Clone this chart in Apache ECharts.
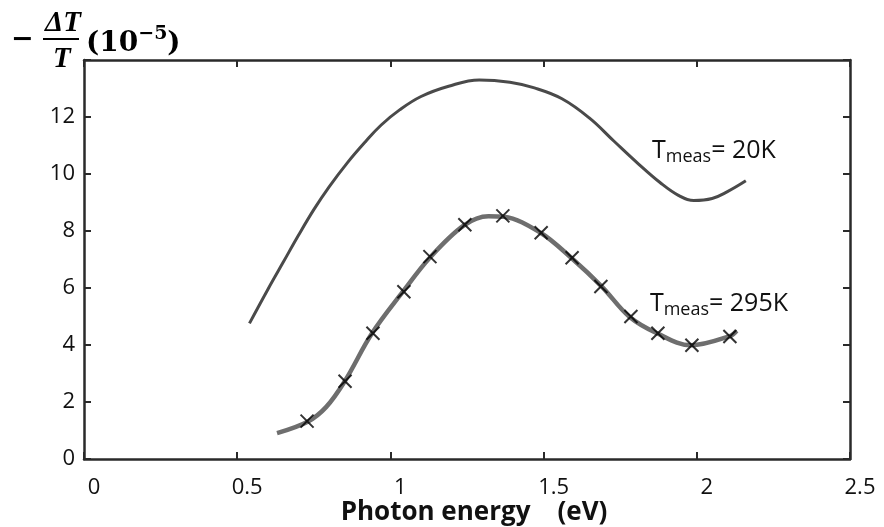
<!DOCTYPE html>
<html>
<head>
<meta charset="utf-8">
<script src="https://cdn.jsdelivr.net/npm/echarts@6.0.0/dist/echarts.min.js"></script>
<style>
html, body { margin: 0; padding: 0; background: #fff; }
#chart { width: 884px; height: 527px; }
</style>
</head>
<body>
<div id="chart"></div>
<script>
// x: photon energy (eV), y: -dT/T (1e-5)
const xTicks = [0, 0.5, 1, 1.5, 2, 2.5];
const yTicks = [0, 2, 4, 6, 8, 10, 12];
const yMax = 14;

// traced curve, T = 20K
const curve20K = [
  [0.54, 4.76], [0.60, 5.95], [0.65, 6.9], [0.70, 7.85], [0.75, 8.75],
  [0.80, 9.55], [0.86, 10.4], [0.92, 11.15], [0.97, 11.72], [1.03, 12.25],
  [1.10, 12.72], [1.19, 13.08], [1.29, 13.3], [1.39, 13.22], [1.47, 13.02],
  [1.56, 12.64], [1.65, 11.96], [1.73, 11.15], [1.81, 10.35], [1.88, 9.7],
  [1.94, 9.25], [1.99, 9.07], [2.05, 9.14], [2.10, 9.38], [2.16, 9.76]
];

// traced curve, T = 295K
const curve295K = [
  [0.63, 0.91], [0.73, 1.31], [0.79, 1.82], [0.85, 2.71], [0.94, 4.41],
  [1.04, 5.86], [1.13, 7.08], [1.24, 8.2], [1.32, 8.52], [1.37, 8.5],
  [1.49, 7.94], [1.59, 7.06], [1.69, 6.05], [1.78, 4.99], [1.87, 4.41],
  [1.98, 3.99], [2.11, 4.32], [2.13, 4.5]
];

// measured points (x marks), T = 295K
const marks295K = [
  [0.728, 1.33], [0.852, 2.73], [0.943, 4.41], [1.044, 5.87], [1.129, 7.1],
  [1.243, 8.22], [1.367, 8.53], [1.492, 7.94], [1.593, 7.06], [1.687, 6.05],
  [1.785, 5.0], [1.873, 4.41], [1.984, 3.99], [2.108, 4.3]
];

// curve labels: anchor in data coords (left edge, T cap centre)
const labels = [
  { text: "= 20K", at: [1.854, 10.85] },
  { text: "= 295K", at: [1.847, 5.5] }
];

const axisColor = "#2a2a2a";
const sans = "Open Sans";

let myChart = echarts.init(document.getElementById("chart"));

function frameAxis(type, pos, show) {
  return {
    type: "value",
    position: pos,
    min: type === "x" ? xTicks[0] : 0,
    max: type === "x" ? xTicks[xTicks.length - 1] : yMax,
    interval: type === "x" ? xTicks[1] - xTicks[0] : yTicks[1] - yTicks[0],
    axisLine: { show: true, onZero: false, lineStyle: { color: axisColor, width: 2.5 } },
    axisTick: { show: true, inside: true, length: 7, lineStyle: { color: axisColor, width: 2 } },
    splitLine: { show: false },
    axisLabel: { show: show },
  };
}

let xMain = frameAxis("x", "bottom", true);
xMain.axisLabel = {
  show: true,
  margin: 18,
  padding: [0, 0, 0, 20],
  color: "#111",
  fontFamily: sans,
  fontSize: 22,
  formatter: (v) => (xTicks.indexOf(v) >= 0 ? String(v) : ""),
};
xMain.name = "Photon energy    (eV)";
xMain.nameLocation = "middle";
xMain.nameGap = 41;
xMain.nameMoveOverlap = false;
xMain.nameTextStyle = {
  color: "#111",
  fontFamily: sans,
  fontWeight: "bold",
  fontSize: 26,
  padding: [0, 0, 0, 14],
};

let yMain = frameAxis("y", "left", true);
yMain.axisLabel = {
  show: true,
  margin: 9,
  color: "#111",
  fontFamily: sans,
  fontSize: 22,
  formatter: (v) => (yTicks.indexOf(v) >= 0 ? String(v) : ""),
};

myChart.setOption({
  animation: false,
  backgroundColor: "#fff",
  grid: { left: 84, right: 34, top: 60, bottom: 68, outerBoundsMode: "none" },
  xAxis: [xMain, frameAxis("x", "top", false)],
  yAxis: [yMain, frameAxis("y", "right", false)],
  series: [
    {
      name: "20K",
      type: "line",
      data: curve20K,
      smooth: 0.4,
      showSymbol: false,
      silent: true,
      lineStyle: { color: "#4a4a4a", width: 3 },
    },
    {
      name: "295K",
      type: "line",
      data: curve295K,
      smooth: 0.35,
      showSymbol: false,
      silent: true,
      lineStyle: { color: "#6e6e6e", width: 4.5 },
    },
    {
      name: "295K points",
      type: "scatter",
      data: marks295K,
      symbol: "path://M0,0L10,10M10,0L0,10",
      symbolSize: 13,
      silent: true,
      itemStyle: { color: "none", borderColor: "#000", borderWidth: 2 },
      z: 5,
    },
  ],
});

// annotations
let graphics = [
  // y axis title: − ΔT/T (10^-5)
  {
    type: "text", left: 11, top: 26,
    style: { text: "\u2212", font: "bold 27px 'DejaVu Serif'", fill: "#000" },
  },
  {
    type: "text", left: 45, top: 9,
    style: { text: "\u0394T", font: "italic bold 29px 'Liberation Serif'", fill: "#000" },
  },
  {
    type: "line",
    shape: { x1: 43, y1: 39, x2: 79, y2: 39 },
    style: { stroke: "#000", lineWidth: 2 },
  },
  {
    type: "text", left: 53, top: 45,
    style: { text: "T", font: "italic bold 29px 'Liberation Serif'", fill: "#000" },
  },
  {
    type: "text", left: 86, top: 25,
    style: {
      text: "{p|(10}{s|\u22125}{p|)}",
      rich: {
        p: { fontFamily: "DejaVu Serif", fontWeight: "bold", fontSize: 28, lineHeight: 38, fill: "#000" },
        s: { fontFamily: "DejaVu Serif", fontWeight: "bold", fontSize: 19, lineHeight: 14, verticalAlign: "top", fill: "#000" },
      },
    },
  },
];

labels.forEach((lb) => {
  let p = myChart.convertToPixel({ gridIndex: 0 }, lb.at);
  graphics.push({
    type: "text",
    x: p[0],
    y: p[1] - 13.5,
    style: {
      text: "{t|T}{s|meas}{t|" + lb.text + "}",
      rich: {
        t: { fontFamily: sans, fontSize: 25, lineHeight: 30, fill: "#111" },
        s: { fontFamily: sans, fontSize: 18, lineHeight: 14, verticalAlign: "bottom", fill: "#111" },
      },
    },
  });
});

myChart.setOption({ graphic: graphics });
</script>
</body>
</html>
